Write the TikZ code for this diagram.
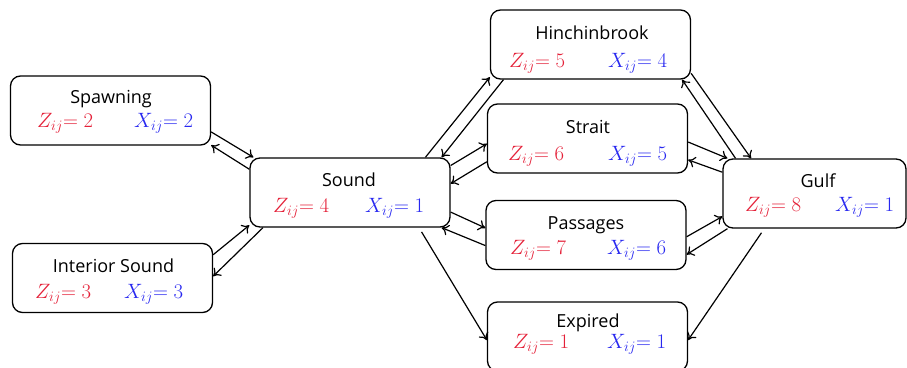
\documentclass[tikz,border=0pt]{standalone}
\usepackage{fontspec}
\newfontfamily\titlefont{Open Sans}
\usetikzlibrary{arrows.meta}
\definecolor{zred}{RGB}{228,32,56}
\definecolor{xblue}{RGB}{40,40,240}
\tikzset{
  box/.style={draw, line width=1.3pt, rounded corners=10pt, minimum width=200pt, minimum height=69pt, inner sep=0pt},
  ttl/.style={anchor=base, font=\titlefont\fontsize{18}{20}\selectfont, inner sep=0pt},
  zv/.style={anchor=base west, text=zred, font=\fontsize{20}{24}\selectfont, inner sep=0pt},
  xv/.style={anchor=base west, text=xblue, font=\fontsize{20}{24}\selectfont, inner sep=0pt},
  link/.style={line width=1.2pt, -{To[length=7pt,width=11pt]}},
}
\begin{document}
\begin{tikzpicture}[x=1pt,y=-1pt]
\useasboundingbox (0,0) rectangle (907,367);
\clip (0,0) rectangle (907,367);
% boxes
\node[box] (S) at (110.5,110.5) {};
\node[box] (I) at (112.5,278) {};
\node[box] (D) at (350,192.5) {};
\node[box] (H) at (590.5,44.5) {};
\node[box] (T) at (587.5,138.5) {};
\node[box] (P) at (586,235) {};
\node[box] (E) at (587.5,336.5) {};
\node[box, minimum width=183pt] (G) at (814.5,193.5) {};
% texts
\node[ttl] (St) at (111,103) {Spawning};
\node[zv] (Sz) at (37,127) {$Z_{ij}$$= 2$};
\node[xv] (Sx) at (134,127) {$X_{ij}$$= 2$};
\node[ttl] (It) at (113.5,272) {Interior Sound};
\node[zv] (Iz) at (35,298) {$Z_{ij}$$= 3$};
\node[xv] (Ix) at (124,298) {$X_{ij}$$= 3$};
\node[ttl] (Dt) at (349,186) {Sound};
\node[zv] (Dz) at (273,212) {$Z_{ij}$$= 4$};
\node[xv] (Dx) at (365,212) {$X_{ij}$$= 1$};
\node[ttl] (Ht) at (592,39) {Hinchinbrook};
\node[zv] (Hz) at (509,67) {$Z_{ij}$$= 5$};
\node[xv] (Hx) at (608,67) {$X_{ij}$$= 4$};
\node[ttl] (Tt) at (588,133) {Strait};
\node[zv] (Tz) at (508,160) {$Z_{ij}$$= 6$};
\node[xv] (Tx) at (608,160) {$X_{ij}$$= 5$};
\node[ttl] (Pt) at (586,229) {Passages};
\node[zv] (Pz) at (510,254) {$Z_{ij}$$= 7$};
\node[xv] (Px) at (607,254) {$X_{ij}$$= 6$};
\node[ttl] (Et) at (588,327) {Expired};
\node[zv] (Ez) at (513,348) {$Z_{ij}$$= 1$};
\node[xv] (Ex) at (607,348) {$X_{ij}$$= 1$};
\node[ttl] (Gt) at (818,187) {Gulf};
\node[zv] (Gz) at (745,211) {$Z_{ij}$$= 8$};
\node[xv] (Gx) at (835,211) {$X_{ij}$$= 1$};
% connectors
\draw[link] (S.-12.07) -- (D.160.04);
\draw[link] (D.167.3) -- (S.-19.52);
\draw[link] (I.13.0) -- (D.-162.0);
\draw[link] (D.-158.4) -- (I.1.7);
\draw[link] (D.25.3) -- (H.-162.3);
\draw[link] (H.-158.7) -- (D.21.6);
\draw[link] (D.15.4) -- (T.-177.4);
\draw[link] (T.-167.3) -- (D.5.4);
\draw[link] (D.-11.6) -- (P.176.6);
\draw[link] (P.-174.3) -- (D.-21.6);
\draw[link, shorten <=5pt] (D.-27.2) -- (E.-178.0);
\draw[link] (H.-16.9) -- (G.151.1);
\draw[link] (G.156.5) -- (H.-21.75);
\draw[link] (T.-2.0) -- (G.158.8);
\draw[link] (G.167.4) -- (T.-12.2);
\draw[link] (P.-1.1) -- (G.-166.8);
\draw[link] (G.-158.25) -- (P.-11.3);
\draw[link, shorten <=5pt] (G.-145.7) -- (E.-2.0);
\end{tikzpicture}
\end{document}
